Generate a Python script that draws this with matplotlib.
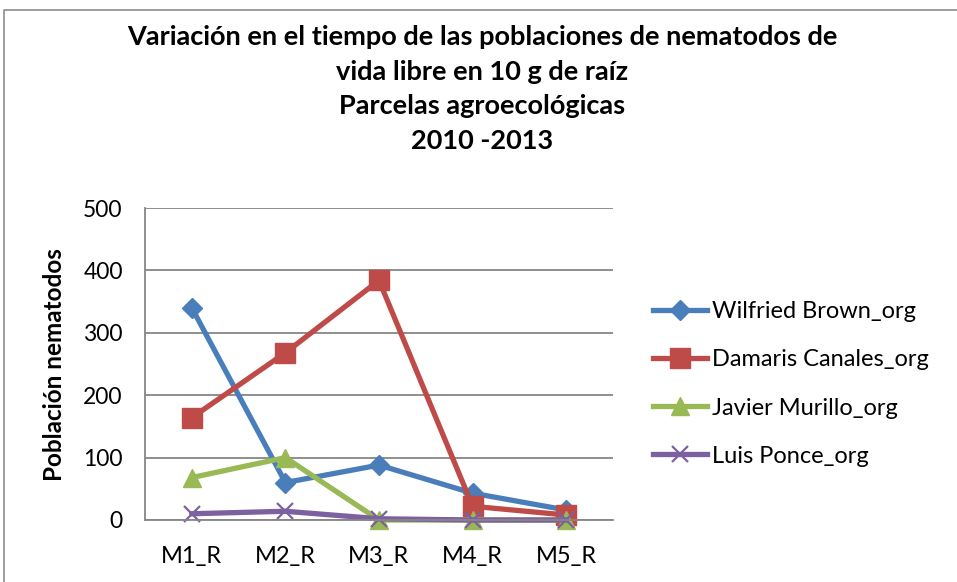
import matplotlib
matplotlib.use("Agg")
import matplotlib.pyplot as plt
from matplotlib.lines import Line2D

categories = ["M1_R", "M2_R", "M3_R", "M4_R", "M5_R"]
series_names = ["Wilfried Brown_org", "Damaris Canales_org", "Javier Murillo_org", "Luis Ponce_org"]
brown = [340, 60, 88, 43, 16]
canales = [164, 268, 384, 22, 8]
murillo = [68, 100, 0, 0, 0]
ponce = [10, 14, 2, 0, 0]
yticks = [0, 100, 200, 300, 400, 500]
title_lines = ["Variación en el tiempo de las poblaciones de nematodos de",
               "vida libre en 10 g de raíz",
               "Parcelas agroecológicas",
               "2010 -2013"]

W, H = 957, 582
fig = plt.figure(figsize=(W / 100, H / 100), dpi=100)
plt.rcParams['font.family'] = ['Lato', 'DejaVu Sans']

def px(x, y):
    return x / W, 1 - y / H

# outer border
fig.add_artist(Line2D([4 / W, 4 / W, 1.0], [0.0, 1 - 10 / H, 1 - 10 / H],
                      transform=fig.transFigure, color="#8c8c8c", lw=1.2))

ax = fig.add_axes([145 / W, (H - 520) / H, 468 / W, 312 / H])
x = list(range(len(categories)))

colors = ["#4A7EBB", "#BE4B48", "#98B954", "#7D60A0"]
styles = [dict(marker="D", markersize=10),
          dict(marker="s", markersize=14),
          dict(marker="^", markersize=13),
          dict(marker="x", markersize=12, markeredgewidth=1.6)]
data = [brown, canales, murillo, ponce]
for vals, name, c, st in zip(data, series_names, colors, styles):
    ax.plot(x, vals, color=c, lw=3.8, label=name, clip_on=False,
            markerfacecolor=c, markeredgecolor=c, **st)

ax.set_xlim(-0.5, 4.5)
ax.set_ylim(0, 500)
ax.set_yticks(yticks)
ax.set_xticks(x)
ax.set_xticklabels(categories)
ax.grid(axis="y", color="#868686", lw=1.3)
ax.set_axisbelow(True)
for s in ["top", "right"]:
    ax.spines[s].set_visible(False)
for s in ["left", "bottom"]:
    ax.spines[s].set_color("#868686")
    ax.spines[s].set_linewidth(1.3)
ax.tick_params(axis="y", length=0, labelsize=16.5, pad=16)
ax.tick_params(axis="x", length=0, labelsize=17, pad=19)

fig.text(55 / W, 1 - 365 / H, "Población nematodos", rotation=90, ha="center",
         va="center", fontsize=17.5, fontweight="bold")

for i, line in enumerate(title_lines):
    fig.text(482 / W, 1 - (37 + 34.7 * i) / H, line, ha="center", va="center",
             fontsize=19.5, fontweight="bold")

leg = ax.legend(loc="center left", bbox_to_anchor=(px(653, 384)), bbox_transform=fig.transFigure,
                frameon=False, fontsize=17, handlelength=2.3, labelspacing=1.15,
                handletextpad=0.2, borderaxespad=0, borderpad=0)

fig.savefig("out.png", dpi=100)
